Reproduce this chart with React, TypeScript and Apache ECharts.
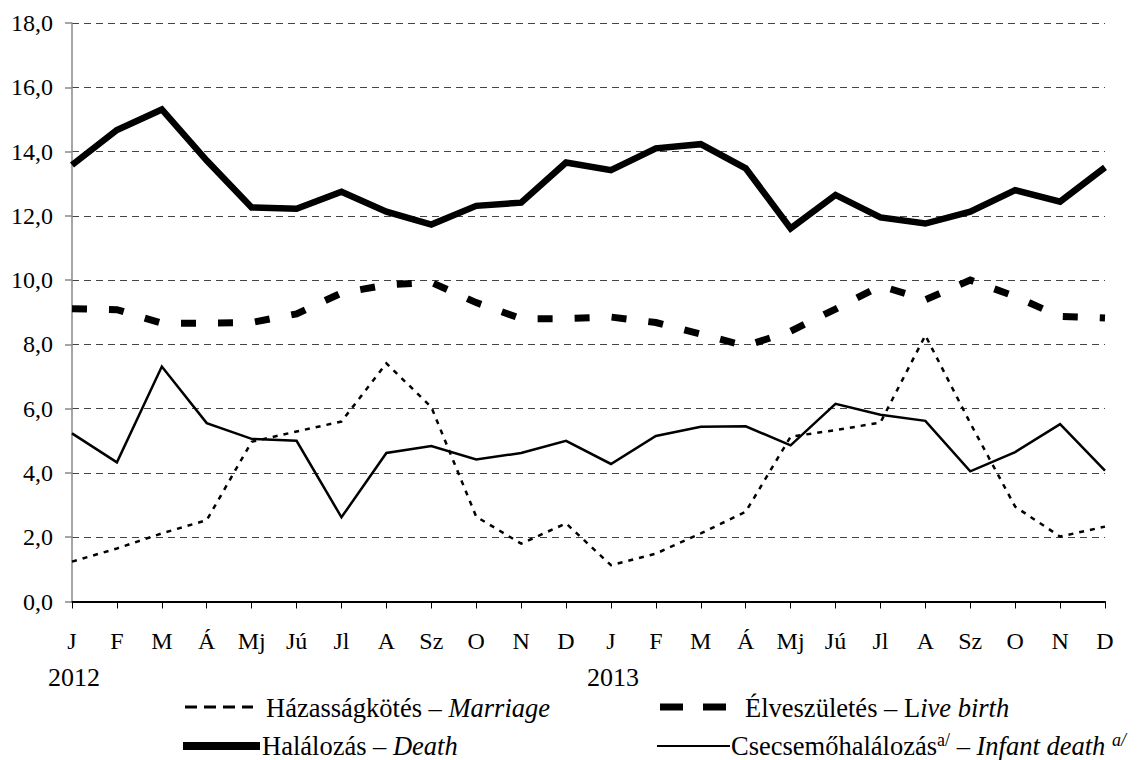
import React, { useEffect, useRef } from 'react';
import * as echarts from 'echarts';

const monthLabels = ['J', 'F', 'M', 'Á', 'Mj', 'Jú', 'Jl', 'A', 'Sz', 'O', 'N', 'D'];
const categories = [...monthLabels, ...monthLabels];
const yearLabels = ['2012', '2013'];
const yearStartIndex = [0, 12];

const marriage = [1.24, 1.65, 2.12, 2.53, 4.97, 5.29, 5.6, 7.41, 6.05, 2.64, 1.8, 2.43,
  1.13, 1.49, 2.12, 2.79, 5.13, 5.33, 5.57, 8.28, 5.55, 2.95, 2.02, 2.33];
const liveBirth = [9.11, 9.08, 8.66, 8.66, 8.68, 8.95, 9.6, 9.85, 9.93, 9.3, 8.8, 8.8,
  8.85, 8.68, 8.32, 7.95, 8.41, 9.1, 9.82, 9.39, 10.0, 9.49, 8.87, 8.82];
const death = [13.58, 14.67, 15.31, 13.72, 12.26, 12.22, 12.75, 12.13, 11.73, 12.31, 12.41, 13.66,
  13.42, 14.1, 14.23, 13.48, 11.61, 12.65, 11.95, 11.76, 12.13, 12.8, 12.44, 13.51];
const infantDeath = [5.23, 4.33, 7.31, 5.55, 5.06, 5.0, 2.62, 4.62, 4.84, 4.42, 4.62, 5.0,
  4.28, 5.15, 5.44, 5.45, 4.86, 6.15, 5.81, 5.62, 4.05, 4.65, 5.52, 4.07];

const FONT = 'Liberation Serif';
const LEGEND_SIZE = 26.5;

export default function App() {
  const ref = useRef<HTMLDivElement>(null);
  useEffect(() => {
    if (!ref.current) return;
    const chart = echarts.init(ref.current, undefined, { renderer: 'svg' });
    const lineSeries = (name: string, data: number[], width: number, type: any) => ({
      name,
      type: 'line',
      data,
      symbol: 'none',
      smooth: false,
      lineStyle: { color: '#000', width, type, cap: 'butt', join: 'miter' },
    });
    const option: any = {
      animation: false,
      backgroundColor: '#fff',
      textStyle: { fontFamily: FONT },
      grid: { left: 72, right: 39, top: 23, bottom: 158.5, containLabel: false },
      xAxis: {
        type: 'category',
        data: categories,
        boundaryGap: false,
        axisLine: { show: true, lineStyle: { color: '#000', width: 2 } },
        axisTick: { show: true, interval: 0, length: 7, lineStyle: { color: '#000', width: 1 } },
        axisLabel: { interval: 0, margin: 27, color: '#000', fontSize: 24, fontFamily: FONT },
        splitLine: { show: false },
      },
      yAxis: {
        type: 'value',
        min: 0,
        max: 18,
        interval: 2,
        axisLine: { show: true, lineStyle: { color: '#888', width: 1.5 } },
        axisTick: { show: true, length: 7, lineStyle: { color: '#888', width: 1.5 } },
        axisLabel: {
          margin: 19,
          color: '#000',
          fontSize: 24,
          fontFamily: FONT,
          formatter: (v: number) => v.toFixed(1).replace('.', ','),
        },
        splitLine: { show: true, lineStyle: { color: '#444', width: 1.2, type: [7, 5] } },
      },
      series: [
        lineSeries('Házasságkötés', marriage, 2.5, [5, 6]),
        lineSeries('Élveszületés', liveBirth, 7, [15, 22]),
        lineSeries('Halálozás', death, 6.5, 'solid'),
        lineSeries('Csecsemőhalálozás', infantDeath, 2.5, 'solid'),
      ],
    };
    chart.setOption(option);

    const rich = {
      n: { fontSize: LEGEND_SIZE, fontFamily: FONT, color: '#000', lineHeight: 30 },
      i: { fontSize: LEGEND_SIZE, fontFamily: FONT, fontStyle: 'italic', color: '#000', lineHeight: 30 },
      s: { fontSize: 18, fontFamily: FONT, color: '#000', verticalAlign: 'top', lineHeight: 30 },
      si: { fontSize: 18, fontFamily: FONT, fontStyle: 'italic', color: '#000', verticalAlign: 'top', lineHeight: 30 },
    };
    const legendText = (x: number, y: number, text: string) => ({
      type: 'text',
      x,
      y,
      style: { text, rich, fill: '#000', fontSize: LEGEND_SIZE, fontFamily: FONT, align: 'left', verticalAlign: 'middle' },
    });
    const yearTexts = yearLabels.map((t, k) => {
      const px = chart.convertToPixel({ xAxisIndex: 0 }, yearStartIndex[k]) as number;
      return {
        type: 'text',
        x: px + 2,
        y: 677,
        style: { text: t, fill: '#000', fontSize: 26, fontFamily: FONT, align: 'center', verticalAlign: 'middle' },
      };
    });
    chart.setOption({
      graphic: [
        ...yearTexts,
        { type: 'line', shape: { x1: 185, y1: 707, x2: 253, y2: 707 }, style: { stroke: '#000', lineWidth: 3, lineDash: [12, 7] } },
        legendText(266, 708, '{n|Házasságkötés – }{i|Marriage}'),
        { type: 'line', shape: { x1: 660, y1: 707, x2: 727, y2: 707 }, style: { stroke: '#000', lineWidth: 7, lineDash: [23, 20] } },
        legendText(745, 708, '{n|Élveszületés – L}{i|ive birth}'),
        { type: 'line', shape: { x1: 183, y1: 746, x2: 260, y2: 746 }, style: { stroke: '#000', lineWidth: 8 } },
        legendText(262, 746, '{n|Halálozás – }{i|Death}'),
        { type: 'line', shape: { x1: 657, y1: 746, x2: 730, y2: 746 }, style: { stroke: '#000', lineWidth: 2 } },
        legendText(731, 746, '{n|Csecsemőhalálozás}{s|a/}{n| – }{i|Infant death }{si|a/}'),
      ],
    });
    return () => chart.dispose();
  }, []);
  return (
    <div
      ref={ref}
      style={{ position: 'fixed', left: 0, top: 0, width: 1144, height: 760, background: '#fff' }}
    />
  );
}
